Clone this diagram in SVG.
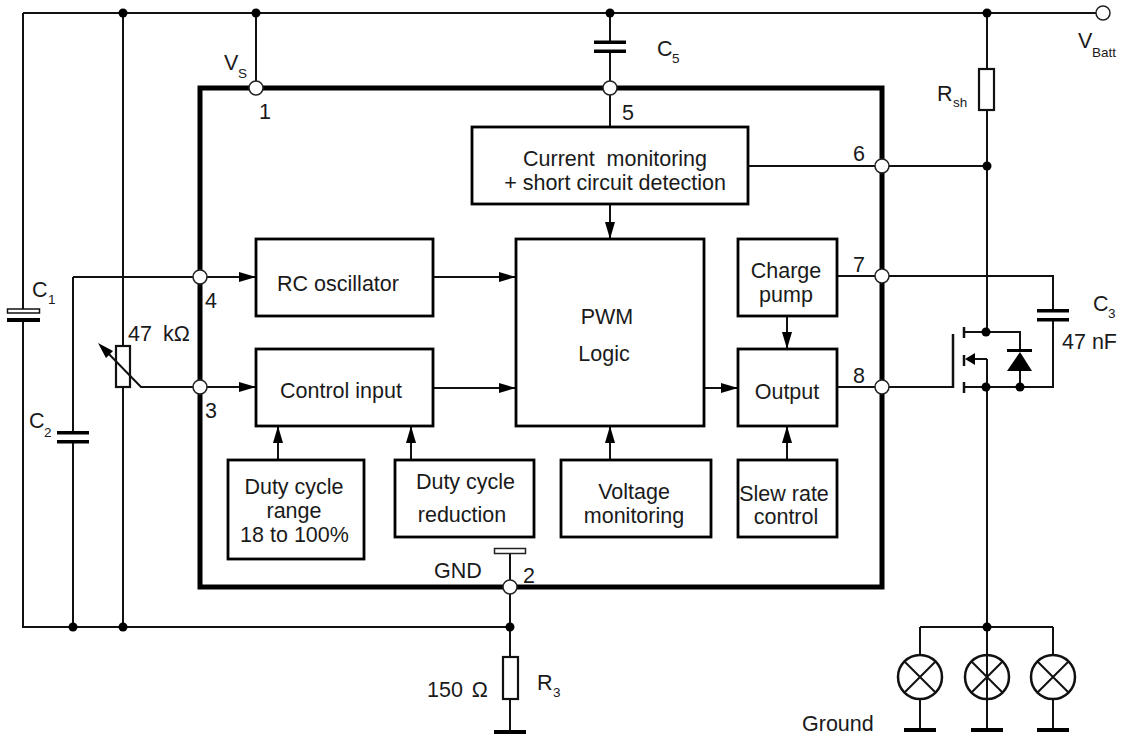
<svg xmlns="http://www.w3.org/2000/svg" width="1123" height="738" viewBox="0 0 1123 738">
<style>
text{font-family:"Liberation Sans",Arial,sans-serif;font-size:21.5px;fill:#1a1a1a}
.s{font-size:13.5px}
.c{text-anchor:middle}
.w{fill:none;stroke:#111;stroke-width:2}
.t{fill:none;stroke:#111;stroke-width:2.5}
.b{fill:#fff;stroke:#000;stroke-width:2.8}
.r{fill:#fff;stroke:#111;stroke-width:2.2}
.d{fill:#000}
.p{fill:#fff;stroke:#222;stroke-width:1.5}
.k{fill:#000;stroke:none}
</style>
<defs>
<marker id="a" markerUnits="userSpaceOnUse" markerWidth="17" markerHeight="10" refX="17" refY="5" orient="auto"><path d="M0,0L17,5L0,10Z" fill="#000"/></marker>
</defs>
<rect width="1123" height="738" fill="#fff"/>
<g id="connectors">
<path class="w" d="M23,13H1096M23,13V309M23,320V627H510M73,277V433M73,442V627M123,13V346M123,387V627M256,13V89M610,13V42M610,51V127M510,554V732M987,13V69M987,110V332"/>
<path class="w" d="M748,166H987M837,276H1053V311M1053,320V387H964M837,387H953M964,332H1020V350M1020,370V387M975,359H987M987,359V730M920,627H1053M920,627V655M1053,627V655M920,699V730M1053,699V730"/>
<path class="t" d="M953,334V388M964,327V338M964,355V366M964,382V393"/>
<path class="w" d="M73,277H256" marker-end="url(#a)"/>
<path class="w" d="M200,387H256" marker-end="url(#a)"/>
<path class="w" d="M433,277H516" marker-end="url(#a)"/>
<path class="w" d="M433,388H516" marker-end="url(#a)"/>
<path class="w" d="M704,388H738" marker-end="url(#a)"/>
<path class="w" d="M610,204V239" marker-end="url(#a)"/>
<path class="w" d="M787,316V349" marker-end="url(#a)"/>
<path class="w" d="M787,460V426" marker-end="url(#a)"/>
<path class="w" d="M278,460V426" marker-end="url(#a)"/>
<path class="w" d="M411,460V426" marker-end="url(#a)"/>
<path class="w" d="M610,460V426" marker-end="url(#a)"/>
<path class="w" d="M200,387H141L104,349"/>
<path class="k" d="M98,343L113,351L106,358Z"/>
<circle class="d" cx="123" cy="13" r="4.5"/><circle class="d" cx="256" cy="13" r="4.5"/><circle class="d" cx="610" cy="13" r="4.5"/><circle class="d" cx="987" cy="13" r="4.5"/>
<circle class="d" cx="73" cy="627" r="4.5"/><circle class="d" cx="123" cy="627" r="4.5"/><circle class="d" cx="510" cy="627" r="4.5"/><circle class="d" cx="987" cy="627" r="4.5"/>
<circle class="d" cx="987" cy="166" r="4.5"/><circle class="d" cx="986" cy="332" r="4.5"/><circle class="d" cx="986" cy="387" r="4.5"/><circle class="d" cx="1020" cy="387" r="4.5"/>
</g>
<g id="chip"><rect x="200" y="88" width="682" height="499" fill="none" stroke="#000" stroke-width="5"/></g>
<g id="pins">
<circle class="p" cx="256" cy="88" r="7"/><circle class="p" cx="610" cy="88" r="7"/><circle class="p" cx="882" cy="166" r="7"/><circle class="p" cx="882" cy="276" r="7"/><circle class="p" cx="882" cy="387" r="7"/><circle class="p" cx="200" cy="277" r="7"/><circle class="p" cx="200" cy="387" r="7"/><circle class="p" cx="510" cy="587" r="7"/><circle class="p" cx="1103" cy="13" r="7"/>
</g>
<g id="current"><rect class="b" x="472" y="127" width="276" height="77"/><text class="c" x="615" y="166" xml:space="preserve">Current  monitoring</text><text class="c" x="615" y="190">+ short circuit detection</text></g>
<g id="rc"><rect class="b" x="256" y="239" width="177" height="77"/><text class="c" x="338" y="291">RC oscillator</text></g>
<g id="control"><rect class="b" x="256" y="349" width="177" height="77"/><text class="c" x="341" y="398">Control input</text></g>
<g id="pwm"><rect class="b" x="516" y="239" width="188" height="187"/><text class="c" x="607" y="324">PWM</text><text class="c" x="604" y="361">Logic</text></g>
<g id="charge"><rect class="b" x="738" y="239" width="99" height="77"/><text class="c" x="786" y="278">Charge</text><text class="c" x="786" y="302">pump</text></g>
<g id="output"><rect class="b" x="738" y="349" width="99" height="77"/><text class="c" x="787" y="399">Output</text></g>
<g id="duty-range"><rect class="b" x="228" y="460" width="136" height="99"/><text class="c" x="294" y="494">Duty cycle</text><text class="c" x="294" y="518">range</text><text class="c" x="294.500" y="542">18 to 100%</text></g>
<g id="duty-reduction"><rect class="b" x="395" y="460" width="139" height="77"/><text class="c" x="465.500" y="489">Duty cycle</text><text class="c" x="462" y="522">reduction</text></g>
<g id="voltage"><rect class="b" x="561" y="460" width="150" height="77"/><text class="c" x="634" y="499">Voltage</text><text class="c" x="634" y="523">monitoring</text></g>
<g id="slew"><rect class="b" x="738" y="460" width="99" height="77"/><text class="c" x="784" y="501">Slew rate</text><text class="c" x="786" y="524">control</text></g>
<g id="c1"><rect x="7.500" y="309" width="32" height="4" fill="#fff" stroke="#111" stroke-width="1.5"/><rect class="k" x="7" y="318" width="33" height="4"/><text x="32" y="297">C</text><text class="s" x="48" y="304">1</text></g>
<g id="c2"><rect class="k" x="57" y="431" width="32" height="3.500"/><rect class="k" x="57" y="440" width="32" height="3.500"/><text x="29" y="428">C</text><text class="s" x="44" y="437">2</text></g>
<g id="c3"><rect class="k" x="1037" y="309" width="32" height="3.500"/><rect class="k" x="1037" y="318" width="32" height="3.500"/><text x="1093" y="311">C</text><text class="s" x="1108" y="318">3</text><text x="1062" y="349">47 nF</text></g>
<g id="c5"><rect class="k" x="594" y="40.500" width="32" height="3.500"/><rect class="k" x="594" y="49.500" width="32" height="3.500"/><text x="657" y="56">C</text><text class="s" x="672" y="63">5</text></g>
<g id="pot"><rect class="r" x="116" y="346" width="14" height="41" style="fill:none"/><text x="128" y="341" word-spacing="5">47 kΩ</text></g>
<g id="rsh"><rect class="r" x="979" y="69" width="15" height="41"/><text x="937" y="101">R</text><text class="s" x="953" y="107">sh</text></g>
<g id="r3"><rect class="r" x="503" y="657" width="15" height="42"/><text x="427" y="697" word-spacing="3">150 Ω</text><text x="537" y="690">R</text><text class="s" x="553" y="697">3</text></g>
<g id="gnd-sym"><rect x="494.500" y="548.500" width="31" height="5" fill="#fff" stroke="#222" stroke-width="1.5"/><rect class="k" x="494" y="730" width="32" height="4"/></g>
<g id="diode"><rect class="k" x="1007" y="349" width="25" height="3"/><path class="k" d="M1020,352L1032,371H1007Z"/></g>
<g id="fet-arrow"><path class="k" d="M965,359L975,353V365Z"/></g>
<g id="lamp1"><circle class="t" cx="920" cy="677" r="22"/><path class="w" d="M904.500,661.500L935.500,692.500M935.500,661.500L904.500,692.500"/><rect class="k" x="904" y="728" width="32" height="4"/></g>
<g id="lamp2"><circle class="t" cx="987" cy="677" r="22"/><path class="w" d="M971.500,661.500L1002.500,692.500M1002.500,661.500L971.500,692.500"/><rect class="k" x="971" y="728" width="32" height="4"/></g>
<g id="lamp3"><circle class="t" cx="1053" cy="677" r="22"/><path class="w" d="M1037.500,661.500L1068.500,692.500M1068.500,661.500L1037.500,692.500"/><rect class="k" x="1037" y="728" width="32" height="4"/></g>
<g id="labels">
<text x="224" y="70">V</text><text class="s" x="238" y="78">S</text>
<text x="259" y="119">1</text><text x="622" y="120">5</text><text x="853" y="161">6</text><text x="853" y="272">7</text><text x="853" y="383">8</text><text x="205" y="308">4</text><text x="205" y="418">3</text>
<text x="434" y="578">GND</text><text x="523" y="583">2</text>
<text x="1078" y="48">V</text><text class="s" x="1092" y="57">Batt</text>
<text x="802" y="731">Ground</text>
</g>
</svg>
